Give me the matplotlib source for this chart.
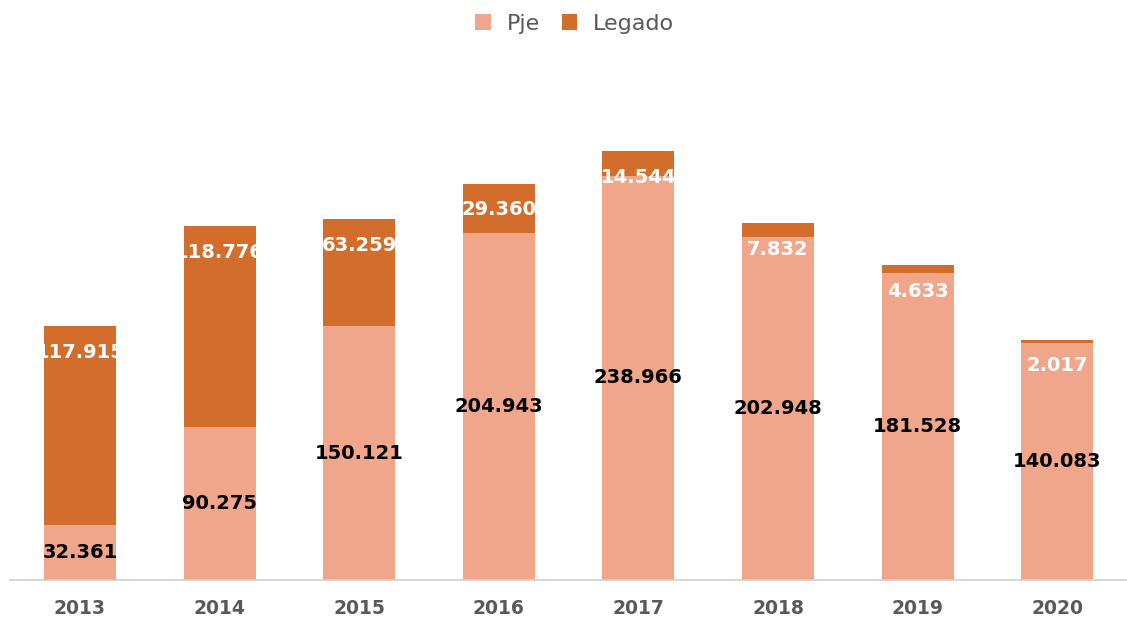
import matplotlib
matplotlib.use("Agg")
import matplotlib.pyplot as plt
import numpy as np

years = ["2013", "2014", "2015", "2016", "2017", "2018", "2019", "2020"]
pje = [32.361, 90.275, 150.121, 204.943, 238.966, 202.948, 181.528, 140.083]
legado = [117.915, 118.776, 63.259, 29.360, 14.544, 7.832, 4.633, 2.017]

c_pje = "#F0A68A"
c_leg = "#D36D2B"
grey = "#595959"

def fmt(v):
    return f"{v:.3f}"

fig = plt.figure(figsize=(11.27, 6.19), dpi=100)
ax = fig.add_axes([0.009, 0.063, 0.991, 0.85])

x = np.arange(len(years))
w = 0.516
ax.bar(x, pje, w, color=c_pje, label="Pje")
ax.bar(x, legado, w, bottom=pje, color=c_leg, label="Legado")

for i in range(len(years)):
    ax.text(x[i], pje[i] / 2, fmt(pje[i]), ha="center", va="center",
            fontsize=14, fontweight="bold", color="black")
    # white labels sit just under the top of each stack
    ax.annotate(fmt(legado[i]), (x[i], pje[i] + legado[i]), xytext=(0, -19),
                textcoords="offset points", ha="center", va="center",
                fontsize=14, fontweight="bold", color="white")

ax.set_xlim(-0.5, len(years) - 0.5)
ax.set_ylim(0, 311)
ax.set_xticks(x, labels=years)
ax.tick_params(axis="x", length=0, pad=14, labelsize=13.5, labelcolor=grey)
for t in ax.get_xticklabels():
    t.set_fontweight("bold")
ax.set_yticks([])
for s in ("top", "right", "left"):
    ax.spines[s].set_visible(False)
ax.spines["bottom"].set_color("#D0D0D0")
ax.spines["bottom"].set_linewidth(1.2)

fig.legend(loc="upper center", bbox_to_anchor=(0.51, 1.01), ncol=2, frameon=False,
           fontsize=16, labelcolor=grey, handlelength=0.7, handleheight=0.7,
           handletextpad=0.7, columnspacing=1.0)

fig.savefig("out.png", dpi=100)
